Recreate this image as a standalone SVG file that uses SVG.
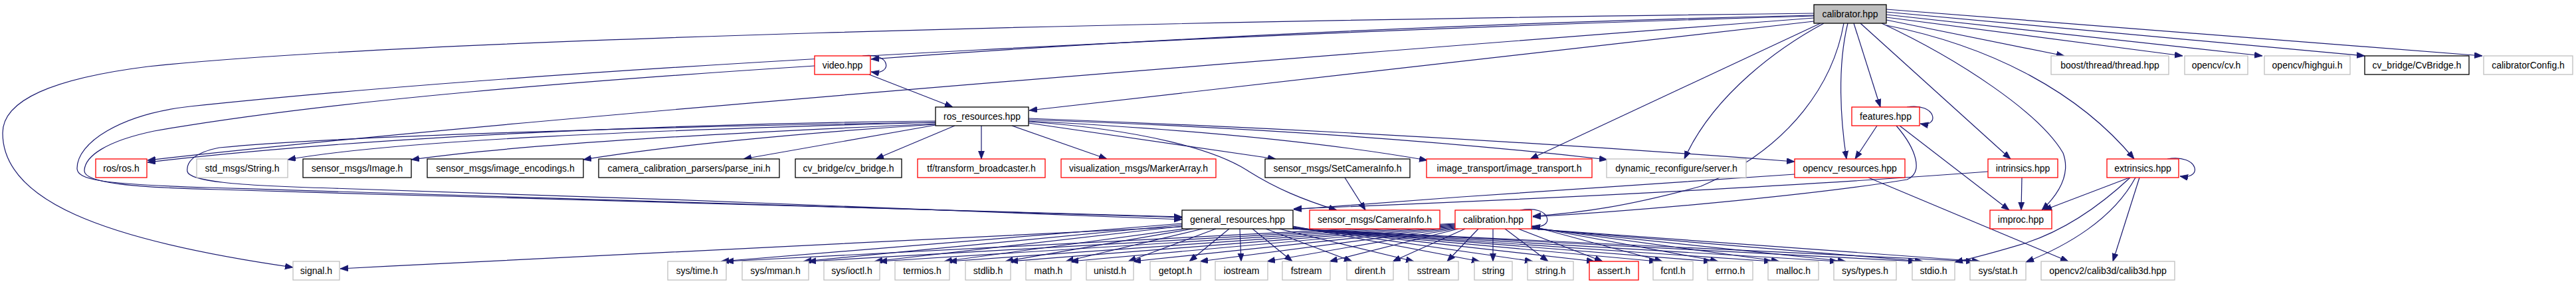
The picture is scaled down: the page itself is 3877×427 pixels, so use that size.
<svg xmlns="http://www.w3.org/2000/svg" width="3877" height="427" viewBox="0 0 3877 427">
<defs>
<style>
rect{stroke-width:1.3}
.red{fill:#fff;stroke:#ff0000}
.grey{fill:#fff;stroke:#bfbfbf}
.blk{fill:#fff;stroke:#000}
.root{fill:#bfbfbf;stroke:#000}
text{font-family:"Liberation Sans",Arial,sans-serif;font-size:14px;text-anchor:middle;fill:#000}
.e{fill:none;stroke:#191970;stroke-width:1.2;marker-end:url(#a)}
</style>
<marker id="a" markerUnits="userSpaceOnUse" markerWidth="13" markerHeight="10" refX="12" refY="4.5" orient="auto">
<path d="M0,0 L12,4.5 L0,9 z" fill="#191970" stroke="#191970" stroke-width="0.8"/>
</marker>
</defs>
<rect x="0" y="0" width="3877" height="427" fill="#fff"/>
<g id="edges">
<!-- calibrator -->
<path class="e" d="M2730,20 C1700,32 600,60 223,100 C80,118 4,150 4,200 C4,300 150,360 441,402"/>
<path class="e" d="M2730,24 C2000,45 900,95 286,160 C180,172 116,215 116,253 C116,270 150,277 312,282 C900,300 1500,320 1779,327"/>
<path class="e" d="M2730,27 C2100,75 800,175 222,241"/>
<path class="e" d="M2730,23 C2200,35 1700,60 1311,89"/>
<path class="e" d="M2730,32 L1549,166"/>
<path class="e" d="M2740,35 L2303,239"/>
<path class="e" d="M2745,35 C2680,70 2580,140 2535,239"/>
<path class="e" d="M2775,35 C2760,120 2700,220 2560,280 C2450,310 2380,320 2307,325"/>
<path class="e" d="M2781,35 C2765,100 2770,180 2779,239"/>
<path class="e" d="M2790,35 L2830,161"/>
<path class="e" d="M2800,35 L3026,239"/>
<path class="e" d="M2832,35 C2950,90 3070,170 3105,230 C3118,265 3095,295 3073,316"/>
<path class="e" d="M2839,38 C3000,70 3130,140 3212,239"/>
<path class="e" d="M2839,30 L3107,84"/>
<path class="e" d="M2839,26 L3285,84"/>
<path class="e" d="M2839,22 L3405,84"/>
<path class="e" d="M2839,18 L3559,84"/>
<path class="e" d="M2839,14 L3736,84"/>
<!-- video -->
<path class="e" d="M1298,84 C1342,78 1344,114 1311,108"/>
<path class="e" d="M1308,112 L1434,161"/>
<path class="e" d="M1226,99 C900,120 500,150 232,197 C160,212 127,235 127,257 C127,275 200,282 330,285 C900,302 1500,322 1779,326"/>
<!-- ros_resources -->
<path class="e" d="M1408,184 C1000,190 500,205 330,222 C290,230 280,245 282,258 C285,272 350,279 500,283 C900,295 1500,318 1779,330"/>
<path class="e" d="M1408,182 C1100,185 600,200 222,244"/>
<path class="e" d="M1408,184 C1000,195 600,210 433,240"/>
<path class="e" d="M1408,186 C1100,200 800,215 619,240"/>
<path class="e" d="M1408,187 C1200,200 1000,220 878,240"/>
<path class="e" d="M1408,188 L1119,239"/>
<path class="e" d="M1437,189 L1318,239"/>
<path class="e" d="M1477,189 L1477,239"/>
<path class="e" d="M1523,189 L1666,239"/>
<path class="e" d="M1548,185 L1920,239"/>
<path class="e" d="M1548,182 C1800,195 2000,215 2148,241"/>
<path class="e" d="M1548,180 C1900,192 2200,215 2419,240"/>
<path class="e" d="M1548,178 C2000,195 2400,220 2701,243"/>
<path class="e" d="M1548,183 C1720,195 1830,225 1880,258 C1920,283 1960,300 2012,316"/>
<path class="e" d="M2024,267 L2055,316"/>
<!-- features -->
<path class="e" d="M2870,161 C2915,154 2920,192 2890,186"/>
<path class="e" d="M2825,189 L2792,239"/>
<path class="e" d="M2859,189 L3024,316"/>
<path class="e" d="M2854,189 C2885,225 2895,260 2870,270 C2750,290 2500,315 2307,326"/>
<!-- intrinsics / opencv_resources -->
<path class="e" d="M3043,267 L3042,316"/>
<path class="e" d="M2992,258 C2700,280 2300,300 1947,314"/>
<path class="e" d="M2701,262 C2500,275 2200,295 1947,315"/>
<path class="e" d="M2812,267 L3113,393"/>
<!-- extrinsics -->
<path class="e" d="M3262,239 C3310,231 3316,271 3281,265"/>
<path class="e" d="M3205,267 L3076,316"/>
<path class="e" d="M3206,267 C3160,310 3110,345 3050,365 C3000,380 2970,388 2942,394"/>
<path class="e" d="M3214,267 C3180,330 3110,370 3049,394"/>
<path class="e" d="M3220,267 L3180,393"/>
<!-- calibration self loop -->
<path class="e" d="M2288,316 C2336,307 2341,346 2306,340"/>
<!-- general_resources -->
<path class="e" d="M1779,341 C1500,356 1000,378 512,404"/>
<path class="e" d="M1779,336 L1085,393"/>
<path class="e" d="M1779,338 L1209,393"/>
<path class="e" d="M1779,340 L1316,393"/>
<path class="e" d="M1782,344 L1421,393"/>
<path class="e" d="M1795,344 L1513,393"/>
<path class="e" d="M1810,344 L1604,393"/>
<path class="e" d="M1830,344 L1698,393"/>
<path class="e" d="M1850,344 L1790,393"/>
<path class="e" d="M1866,344 L1868,393"/>
<path class="e" d="M1885,344 L1945,393"/>
<path class="e" d="M1905,344 L2035,393"/>
<path class="e" d="M1925,344 L2128,393"/>
<path class="e" d="M1946,340 L2227,393"/>
<path class="e" d="M1946,341 L2307,393"/>
<path class="e" d="M1946,342 L2400,393"/>
<path class="e" d="M1946,343 L2494,393"/>
<path class="e" d="M1946,343 L2576,393"/>
<path class="e" d="M1946,344 L2667,393"/>
<path class="e" d="M1946,344 L2766,393"/>
<path class="e" d="M1946,344 L2884,393"/>
<path class="e" d="M1946,344 L2971,393"/>
<!-- calibration -->
<path class="e" d="M2190,336 L1092,393"/>
<path class="e" d="M2190,337 L1216,393"/>
<path class="e" d="M2190,338 L1323,393"/>
<path class="e" d="M2190,339 L1428,393"/>
<path class="e" d="M2190,340 L1520,393"/>
<path class="e" d="M2190,341 L1611,393"/>
<path class="e" d="M2190,342 L1705,393"/>
<path class="e" d="M2190,343 L1806,393"/>
<path class="e" d="M2190,344 L1907,393"/>
<path class="e" d="M2195,344 L2001,393"/>
<path class="e" d="M2205,344 L2096,393"/>
<path class="e" d="M2225,344 L2178,393"/>
<path class="e" d="M2247,344 L2247,393"/>
<path class="e" d="M2265,344 L2330,393"/>
<path class="e" d="M2285,344 L2412,393"/>
<path class="e" d="M2305,340 L2502,393"/>
<path class="e" d="M2305,341 L2586,393"/>
<path class="e" d="M2305,342 L2678,393"/>
<path class="e" d="M2305,343 L2778,393"/>
<path class="e" d="M2305,344 L2894,393"/>
<path class="e" d="M2305,344 L2980,393"/>
</g>
<g id="n-calibrator"><rect class="root" x="2730" y="7" width="109" height="28"/><text x="2784.5" y="26">calibrator.hpp</text></g>
<g id="n-video"><rect class="red" x="1226" y="84" width="84" height="28"/><text x="1268" y="103">video.hpp</text></g>
<g id="n-boost"><rect class="grey" x="3087" y="84" width="177" height="28"/><text x="3175.5" y="103">boost/thread/thread.hpp</text></g>
<g id="n-cv"><rect class="grey" x="3288" y="84" width="95" height="28"/><text x="3335.5" y="103">opencv/cv.h</text></g>
<g id="n-highgui"><rect class="grey" x="3408" y="84" width="129" height="28"/><text x="3472.5" y="103">opencv/highgui.h</text></g>
<g id="n-cvbridge2"><rect class="blk" x="3559" y="84" width="157" height="28"/><text x="3637.5" y="103">cv_bridge/CvBridge.h</text></g>
<g id="n-config"><rect class="grey" x="3738" y="84" width="134" height="28"/><text x="3805" y="103">calibratorConfig.h</text></g>
<g id="n-ros-res"><rect class="blk" x="1408" y="161" width="140" height="28"/><text x="1478" y="180">ros_resources.hpp</text></g>
<g id="n-features"><rect class="red" x="2787" y="161" width="102" height="28"/><text x="2838" y="180">features.hpp</text></g>
<g id="n-ros"><rect class="red" x="144" y="239" width="77" height="28"/><text x="182.5" y="258">ros/ros.h</text></g>
<g id="n-string-msg"><rect class="grey" x="296" y="239" width="137" height="28"/><text x="364.5" y="258">std_msgs/String.h</text></g>
<g id="n-image"><rect class="blk" x="456" y="239" width="163" height="28"/><text x="537.5" y="258">sensor_msgs/Image.h</text></g>
<g id="n-encodings"><rect class="blk" x="643" y="239" width="235" height="28"/><text x="760.5" y="258">sensor_msgs/image_encodings.h</text></g>
<g id="n-parse"><rect class="blk" x="901" y="239" width="272" height="28"/><text x="1037" y="258">camera_calibration_parsers/parse_ini.h</text></g>
<g id="n-cvbridge"><rect class="blk" x="1197" y="239" width="160" height="28"/><text x="1277" y="258">cv_bridge/cv_bridge.h</text></g>
<g id="n-tf"><rect class="red" x="1381" y="239" width="192" height="28"/><text x="1477" y="258">tf/transform_broadcaster.h</text></g>
<g id="n-marker"><rect class="red" x="1597" y="239" width="233" height="28"/><text x="1713.5" y="258">visualization_msgs/MarkerArray.h</text></g>
<g id="n-setcam"><rect class="blk" x="1904" y="239" width="218" height="28"/><text x="2013" y="258">sensor_msgs/SetCameraInfo.h</text></g>
<g id="n-imgtrans"><rect class="red" x="2147" y="239" width="249" height="28"/><text x="2271.5" y="258">image_transport/image_transport.h</text></g>
<g id="n-dyn"><rect class="grey" x="2418" y="239" width="210" height="28"/><text x="2523" y="258">dynamic_reconfigure/server.h</text></g>
<g id="n-ocvres"><rect class="red" x="2701" y="239" width="166" height="28"/><text x="2784" y="258">opencv_resources.hpp</text></g>
<g id="n-intr"><rect class="red" x="2992" y="239" width="105" height="28"/><text x="3044.5" y="258">intrinsics.hpp</text></g>
<g id="n-extr"><rect class="red" x="3171" y="239" width="108" height="28"/><text x="3225" y="258">extrinsics.hpp</text></g>
<g id="n-general"><rect class="blk" x="1779" y="316" width="167" height="28"/><text x="1862.5" y="335">general_resources.hpp</text></g>
<g id="n-caminfo"><rect class="red" x="1971" y="316" width="196" height="28"/><text x="2069" y="335">sensor_msgs/CameraInfo.h</text></g>
<g id="n-calibration"><rect class="red" x="2190" y="316" width="115" height="28"/><text x="2247.5" y="335">calibration.hpp</text></g>
<g id="n-improc"><rect class="red" x="2995" y="316" width="93" height="28"/><text x="3041.5" y="335">improc.hpp</text></g>
<g id="n-signal"><rect class="grey" x="441" y="393" width="70" height="28"/><text x="476" y="412">signal.h</text></g>
<g id="n-systime"><rect class="grey" x="1005" y="393" width="88" height="28"/><text x="1049" y="412">sys/time.h</text></g>
<g id="n-sysmman"><rect class="grey" x="1117" y="393" width="100" height="28"/><text x="1167" y="412">sys/mman.h</text></g>
<g id="n-sysioctl"><rect class="grey" x="1240" y="393" width="84" height="28"/><text x="1282" y="412">sys/ioctl.h</text></g>
<g id="n-termios"><rect class="grey" x="1347" y="393" width="82" height="28"/><text x="1388" y="412">termios.h</text></g>
<g id="n-stdlib"><rect class="grey" x="1453" y="393" width="68" height="28"/><text x="1487" y="412">stdlib.h</text></g>
<g id="n-math"><rect class="grey" x="1544" y="393" width="68" height="28"/><text x="1578" y="412">math.h</text></g>
<g id="n-unistd"><rect class="grey" x="1635" y="393" width="71" height="28"/><text x="1670.5" y="412">unistd.h</text></g>
<g id="n-getopt"><rect class="grey" x="1731" y="393" width="76" height="28"/><text x="1769" y="412">getopt.h</text></g>
<g id="n-iostream"><rect class="grey" x="1829" y="393" width="79" height="28"/><text x="1868.5" y="412">iostream</text></g>
<g id="n-fstream"><rect class="grey" x="1930" y="393" width="72" height="28"/><text x="1966" y="412">fstream</text></g>
<g id="n-dirent"><rect class="grey" x="2027" y="393" width="70" height="28"/><text x="2062" y="412">dirent.h</text></g>
<g id="n-sstream"><rect class="grey" x="2120" y="393" width="75" height="28"/><text x="2157.5" y="412">sstream</text></g>
<g id="n-string"><rect class="grey" x="2219" y="393" width="57" height="28"/><text x="2247.5" y="412">string</text></g>
<g id="n-stringh"><rect class="grey" x="2299" y="393" width="69" height="28"/><text x="2333.5" y="412">string.h</text></g>
<g id="n-assert"><rect class="red" x="2392" y="393" width="74" height="28"/><text x="2429" y="412">assert.h</text></g>
<g id="n-fcntl"><rect class="grey" x="2488" y="393" width="60" height="28"/><text x="2518" y="412">fcntl.h</text></g>
<g id="n-errno"><rect class="grey" x="2570" y="393" width="68" height="28"/><text x="2604" y="412">errno.h</text></g>
<g id="n-malloc"><rect class="grey" x="2661" y="393" width="76" height="28"/><text x="2699" y="412">malloc.h</text></g>
<g id="n-systypes"><rect class="grey" x="2760" y="393" width="94" height="28"/><text x="2807" y="412">sys/types.h</text></g>
<g id="n-stdio"><rect class="grey" x="2878" y="393" width="64" height="28"/><text x="2910" y="412">stdio.h</text></g>
<g id="n-sysstat"><rect class="grey" x="2965" y="393" width="84" height="28"/><text x="3007" y="412">sys/stat.h</text></g>
<g id="n-calib3d"><rect class="grey" x="3072" y="393" width="201" height="28"/><text x="3172.5" y="412">opencv2/calib3d/calib3d.hpp</text></g>
</svg>
